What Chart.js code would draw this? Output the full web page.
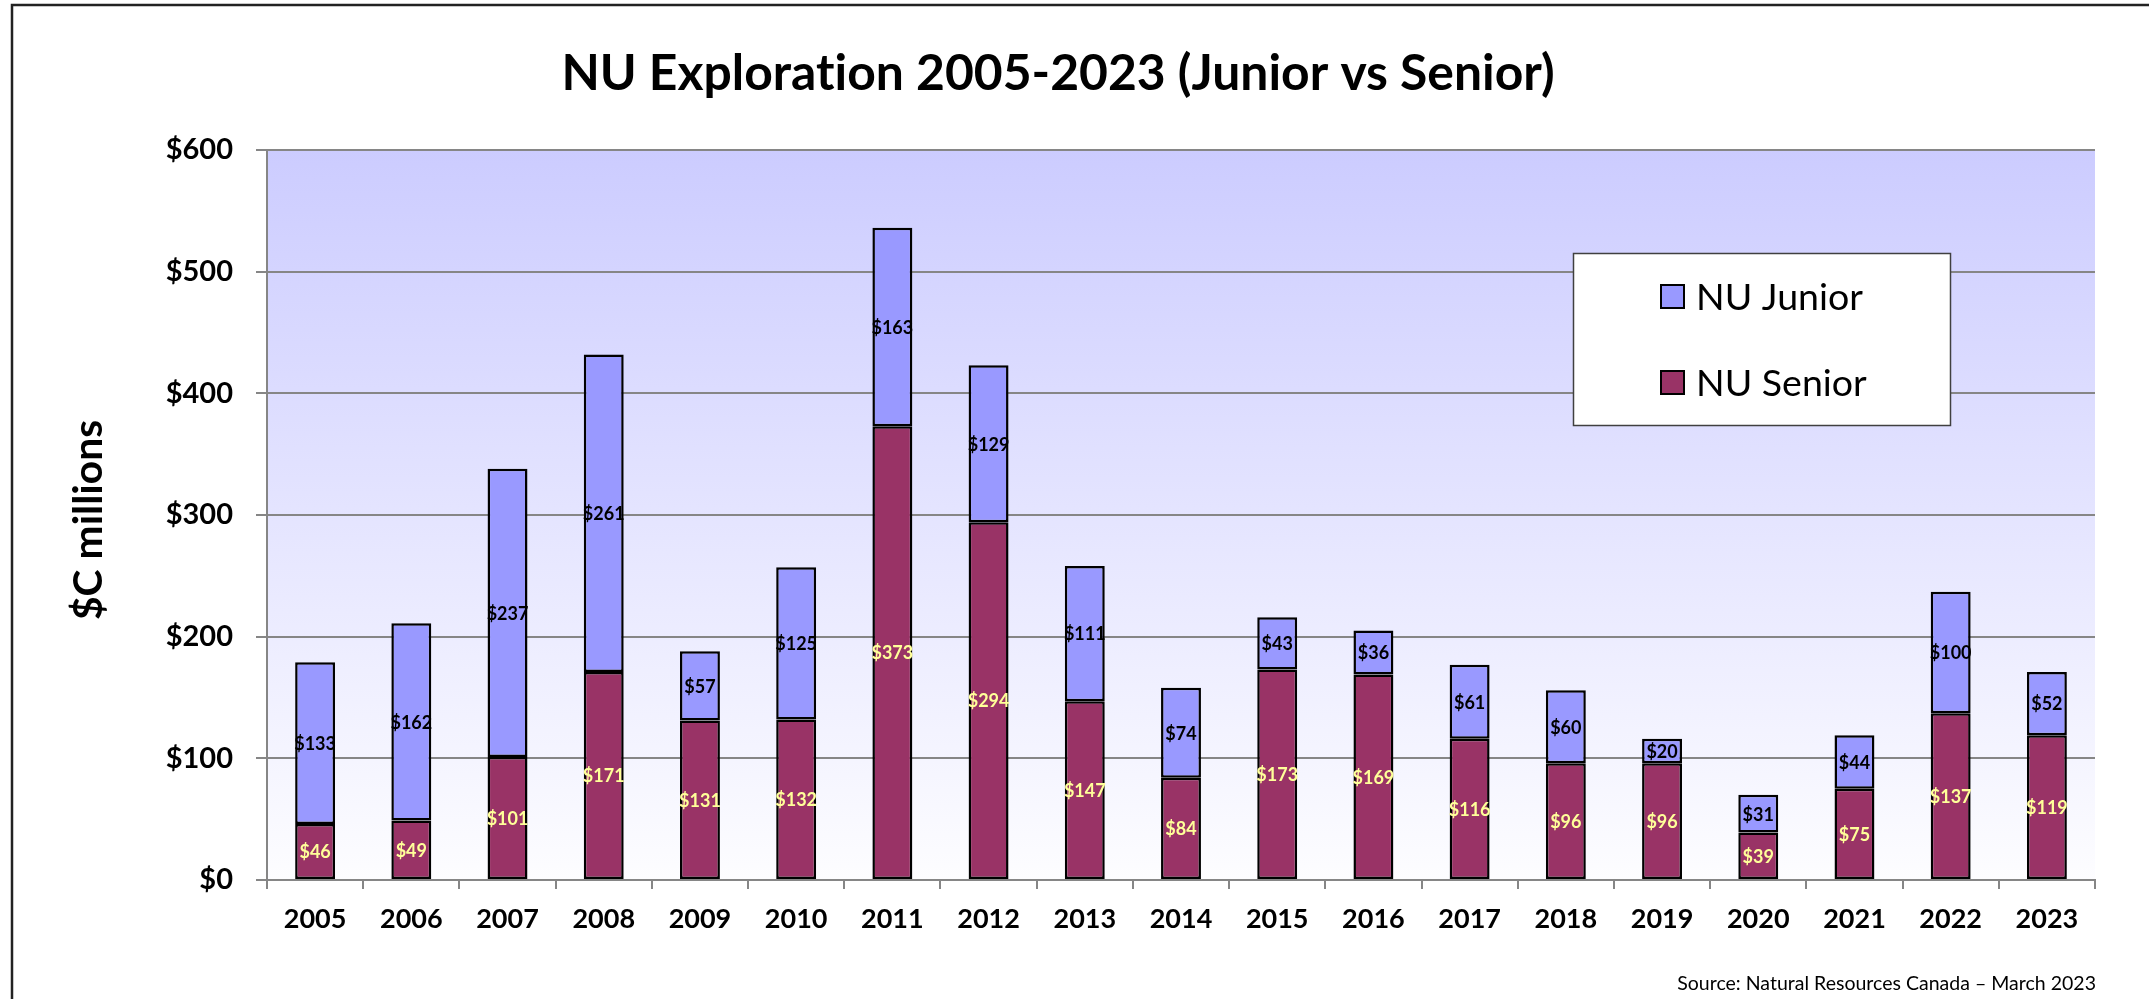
<!DOCTYPE html>
<html>

<head>
    <meta charset="utf-8" />
    <title>NU Exploration 2005-2023</title>
    <style>
        body { margin: 0; background: #fff; }
        canvas { display: block; }
    </style>
</head>

<body>
    <canvas id="chart" width="2149" height="999"></canvas>

    <script src="https://cdn.jsdelivr.net/npm/chart.js"></script>
    <script type="text/javascript">

        // Datos (millones de $C)
        const years = ['2005', '2006', '2007', '2008', '2009', '2010', '2011', '2012', '2013', '2014',
            '2015', '2016', '2017', '2018', '2019', '2020', '2021', '2022', '2023'];
        const seniorValues = [46, 49, 101, 171, 131, 132, 373, 294, 147, 84, 173, 169, 116, 96, 96, 39, 75, 137, 119];
        const juniorValues = [133, 162, 237, 261, 57, 125, 163, 129, 111, 74, 43, 36, 61, 60, 20, 31, 44, 100, 52];
        const yMax = 600;
        const yStep = 100;

        const FONT = 'Lato, "Open Sans", sans-serif';

        // ajusta el tamaño de letra para que el texto ocupe un ancho dado
        function fitFont(ctx, text, weight, width) {
            ctx.font = weight + ' 100px ' + FONT;
            const size = 100 * width / ctx.measureText(text).width;
            ctx.font = weight + ' ' + size.toFixed(1) + 'px ' + FONT;
        }

        const decor = {
            id: 'decor',
            beforeDraw(chart) {
                const { ctx, chartArea: a } = chart;
                ctx.save();
                ctx.fillStyle = '#fff';
                ctx.fillRect(0, 0, chart.width, chart.height);
                const g = ctx.createLinearGradient(0, a.top, 0, a.bottom);
                g.addColorStop(0, '#CCCCFF');
                g.addColorStop(1, '#FDFDFF');
                ctx.fillStyle = g;
                ctx.fillRect(a.left, a.top, a.right - a.left, a.bottom - a.top);
                ctx.restore();
            },
            afterDatasetsDraw(chart) {
                const ctx = chart.ctx;
                ctx.save();
                ctx.font = 'bold 18px ' + FONT;
                ctx.textAlign = 'center';
                ctx.textBaseline = 'middle';
                chart.data.datasets.forEach((ds, i) => {
                    ctx.fillStyle = ds.labelColor;
                    chart.getDatasetMeta(i).data.forEach((bar, j) => {
                        ctx.fillText('$' + ds.data[j], bar.x, (bar.y + bar.base) / 2 + 1);
                    });
                });
                ctx.restore();
            },
            afterDraw(chart) {
                const ctx = chart.ctx;
                ctx.save();
                ctx.fillStyle = '#000';
                ctx.textBaseline = 'alphabetic';
                ctx.letterSpacing = '0.01px'; // sin ligaduras "ti"

                // titulo
                const title = 'NU Exploration 2005-2023 (Junior vs Senior)';
                fitFont(ctx, title, 'bold', 993);
                ctx.textAlign = 'center';
                ctx.fillText(title, 1058, 90);

                // titulo eje y
                ctx.save();
                ctx.translate(102, 520);
                ctx.rotate(-Math.PI / 2);
                fitFont(ctx, '$C millions', 'bold', 200);
                ctx.fillText('$C millions', 0, 0);
                ctx.restore();

                // fuente
                const src = 'Source: Natural Resources Canada \u2013 March 2023';
                fitFont(ctx, src, 'normal', 419);
                ctx.textAlign = 'right';
                ctx.fillText(src, 2096, 990);

                // leyenda
                ctx.fillStyle = '#fff';
                ctx.fillRect(1573, 253, 377, 172);
                ctx.strokeStyle = '#404040';
                ctx.lineWidth = 1.5;
                ctx.strokeRect(1573.5, 253.5, 377, 172);
                const items = [
                    { name: chart.data.datasets[1].label, color: chart.data.datasets[1].backgroundColor, y: 285 },
                    { name: chart.data.datasets[0].label, color: chart.data.datasets[0].backgroundColor, y: 371 }
                ];
                fitFont(ctx, 'NU Junior', 'normal', 167);
                ctx.textAlign = 'left';
                items.forEach(it => {
                    ctx.fillStyle = it.color;
                    ctx.fillRect(1661, it.y, 23, 23);
                    ctx.strokeStyle = '#000';
                    ctx.lineWidth = 2;
                    ctx.strokeRect(1661, it.y, 23, 23);
                    ctx.fillStyle = '#000';
                    ctx.fillText(it.name, 1696, it.y + 25);
                });

                // borde exterior
                ctx.strokeStyle = '#222';
                ctx.lineWidth = 2.5;
                ctx.strokeRect(12, 5, 2300, 1200);
                ctx.restore();
            }
        };

        const ctx = document.getElementById('chart').getContext('2d');

        new Chart(ctx, {
            type: 'bar',
            data: {
                labels: years,
                datasets: [{
                    label: 'NU Senior',
                    data: seniorValues,
                    backgroundColor: '#993366',
                    labelColor: '#FFFF99',
                    borderColor: '#000',
                    borderWidth: 2.5,
                    borderSkipped: false
                }, {
                    label: 'NU Junior',
                    data: juniorValues,
                    backgroundColor: '#9999FF',
                    labelColor: '#000',
                    borderColor: '#000',
                    borderWidth: 2.5,
                    borderSkipped: false
                }]
            },
            options: {
                responsive: false,
                animation: false,
                devicePixelRatio: 1,
                datasets: {
                    bar: { barPercentage: 0.415, categoryPercentage: 1 }
                },
                layout: {
                    padding: { left: 137, top: 150, right: 54, bottom: 59 }
                },
                plugins: {
                    legend: { display: false },
                    tooltip: { enabled: false },
                    title: { display: false }
                },
                scales: {
                    x: {
                        stacked: true,
                        grid: { drawOnChartArea: false, drawTicks: true, tickLength: 9, color: '#868686', lineWidth: 2 },
                        border: { color: '#868686', width: 2 },
                        ticks: { color: '#000', font: { family: FONT, size: 27, weight: 'bold' }, padding: 14, maxRotation: 0 },
                        afterFit: s => { s.height = 60; }
                    },
                    y: {
                        stacked: true,
                        min: 0,
                        max: yMax,
                        grid: { color: '#868686', lineWidth: 2, tickLength: 11 },
                        border: { color: '#868686', width: 2 },
                        ticks: {
                            stepSize: yStep,
                            color: '#000',
                            font: { family: FONT, size: 29, weight: 'bold' },
                            padding: 23,
                            callback: v => '$' + v
                        },
                        afterFit: s => { s.width = 130; }
                    }
                }
            },
            plugins: [decor]
        });

    </script>

</body>

</html>
